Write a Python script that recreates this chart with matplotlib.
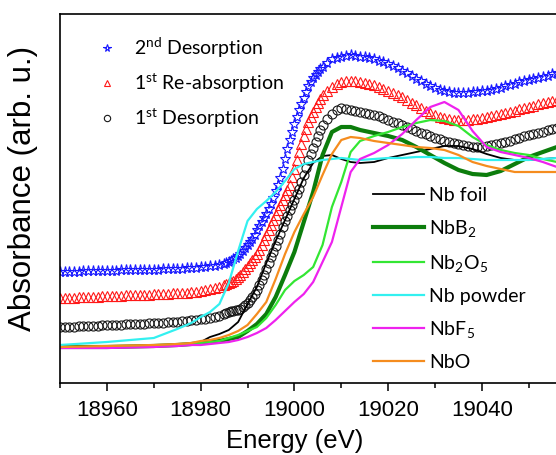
import numpy as np
import matplotlib

matplotlib.use("Agg")
from matplotlib import pyplot as plt
from matplotlib.ticker import MultipleLocator

plt.rcParams['font.family'] = ['Liberation Sans', 'DejaVu Sans']
plt.rcParams['mathtext.default'] = 'regular'

# energy grid of the in-situ scans (finer over the edge)
e_pre = np.arange(18950, 18986)
e_edge = np.arange(18985.5, 19006.5, 0.5)
e_post = np.arange(19007, 19057)
energy = np.concatenate((e_pre, e_edge, e_post))

des2_pre = [0.75, 0.75, 0.75, 0.75, 0.75, 0.76, 0.76, 0.76, 0.76, 0.76,
            0.76, 0.76, 0.76, 0.77, 0.77, 0.77, 0.77, 0.77, 0.77, 0.77,
            0.77, 0.77, 0.78, 0.78, 0.78, 0.78, 0.78, 0.79, 0.79, 0.79,
            0.80, 0.80, 0.81, 0.81, 0.82, 0.83]
des2_edge = [0.84, 0.85, 0.86, 0.88, 0.89, 0.91, 0.93, 0.96, 0.99, 1.02,
             1.05, 1.08, 1.12, 1.17, 1.21, 1.25, 1.29, 1.33, 1.38, 1.43,
             1.49, 1.56, 1.62, 1.69, 1.78, 1.88, 1.98, 2.07, 2.15, 2.23,
             2.30, 2.37, 2.43, 2.49, 2.55, 2.61, 2.65, 2.69, 2.72, 2.75,
             2.78, 2.80]
des2_post = [2.84, 2.88, 2.89, 2.90, 2.91, 2.92, 2.91, 2.90, 2.90, 2.89,
             2.88, 2.86, 2.85, 2.83, 2.81, 2.79, 2.76, 2.74, 2.71, 2.68,
             2.66, 2.63, 2.61, 2.59, 2.57, 2.56, 2.55, 2.54, 2.54, 2.54,
             2.54, 2.55, 2.55, 2.56, 2.56, 2.57, 2.58, 2.59, 2.61, 2.62,
             2.63, 2.65, 2.66, 2.67, 2.68, 2.69, 2.70, 2.71, 2.73, 2.74]

reabs1_pre = [0.49, 0.49, 0.49, 0.49, 0.50, 0.50, 0.50, 0.50, 0.50, 0.51,
              0.51, 0.51, 0.51, 0.51, 0.52, 0.52, 0.52, 0.52, 0.52, 0.52,
              0.53, 0.53, 0.53, 0.53, 0.54, 0.54, 0.54, 0.54, 0.55, 0.55,
              0.56, 0.57, 0.58, 0.59, 0.60, 0.62]
reabs1_edge = [0.63, 0.64, 0.65, 0.66, 0.68, 0.70, 0.72, 0.75, 0.78, 0.81,
               0.84, 0.87, 0.90, 0.93, 0.97, 1.02, 1.07, 1.12, 1.17, 1.22,
               1.27, 1.32, 1.37, 1.42, 1.47, 1.52, 1.57, 1.62, 1.70, 1.78,
               1.87, 1.95, 2.03, 2.11, 2.18, 2.25, 2.30, 2.35, 2.40, 2.44,
               2.48, 2.52]
reabs1_post = [2.56, 2.60, 2.63, 2.65, 2.66, 2.66, 2.66, 2.65, 2.64, 2.63,
               2.62, 2.60, 2.58, 2.56, 2.54, 2.52, 2.50, 2.47, 2.44, 2.42,
               2.39, 2.36, 2.34, 2.32, 2.30, 2.29, 2.28, 2.27, 2.27, 2.27,
               2.27, 2.28, 2.28, 2.29, 2.30, 2.31, 2.32, 2.33, 2.34, 2.35,
               2.36, 2.38, 2.39, 2.40, 2.41, 2.43, 2.44, 2.45, 2.46, 2.47]

des1_pre = [0.20, 0.20, 0.20, 0.20, 0.21, 0.21, 0.21, 0.21, 0.21, 0.22,
            0.22, 0.22, 0.22, 0.22, 0.23, 0.23, 0.23, 0.23, 0.23, 0.24,
            0.24, 0.24, 0.24, 0.25, 0.25, 0.25, 0.26, 0.26, 0.27, 0.27,
            0.28, 0.28, 0.29, 0.30, 0.31, 0.33]
des1_edge = [0.34, 0.35, 0.36, 0.36, 0.37, 0.37, 0.38, 0.40, 0.42, 0.44,
             0.47, 0.50, 0.53, 0.57, 0.62, 0.67, 0.72, 0.78, 0.84, 0.90,
             0.95, 1.01, 1.07, 1.13, 1.20, 1.26, 1.31, 1.37, 1.42, 1.47,
             1.53, 1.58, 1.65, 1.72, 1.79, 1.87, 1.93, 1.99, 2.05, 2.11,
             2.17, 2.22]
des1_post = [2.28, 2.33, 2.37, 2.39, 2.38, 2.37, 2.36, 2.35, 2.34, 2.33,
             2.32, 2.31, 2.29, 2.27, 2.25, 2.24, 2.22, 2.20, 2.18, 2.16,
             2.14, 2.13, 2.11, 2.09, 2.08, 2.06, 2.05, 2.04, 2.03, 2.02,
             2.01, 2.00, 2.00, 2.00, 2.01, 2.02, 2.03, 2.04, 2.05, 2.06,
             2.08, 2.09, 2.11, 2.12, 2.13, 2.14, 2.15, 2.17, 2.18, 2.19]

des2 = des2_pre + des2_edge + des2_post
reabs1 = reabs1_pre + reabs1_edge + reabs1_post
des1 = des1_pre + des1_edge + des1_post

# reference spectra
ref_energy = [18950, 18960, 18970, 18975, 18978,
              18980, 18982, 18984, 18986, 18988, 18990, 18992, 18994, 18996,
              18998, 19000, 19002, 19004, 19006, 19008, 19010, 19012, 19014,
              19017, 19020, 19023, 19026, 19029, 19032, 19035, 19038, 19041,
              19044, 19047, 19050, 19053, 19056]
nb_foil = [0.01, 0.01, 0.01, 0.02, 0.03,
           0.05, 0.10, 0.13, 0.17, 0.25, 0.43, 0.60, 0.84, 1.06,
           1.27, 1.48, 1.69, 1.84, 1.91, 1.92, 1.88, 1.85, 1.84,
           1.85, 1.89, 1.92, 1.95, 1.98, 2.01, 2.01, 1.98, 1.93,
           1.89, 1.87, 1.87, 1.88, 1.89]
nbb2 = [0.00, 0.00, 0.01, 0.02, 0.03,
        0.04, 0.05, 0.06, 0.08, 0.10, 0.16, 0.23, 0.33, 0.50,
        0.72, 0.95, 1.25, 1.55, 1.92, 2.15, 2.20, 2.20, 2.17,
        2.14, 2.11, 2.07, 2.00, 1.92, 1.84, 1.77, 1.73, 1.72,
        1.76, 1.83, 1.90, 1.95, 2.00]
nb2o5 = [0.00, 0.00, 0.01, 0.02, 0.03,
         0.04, 0.05, 0.06, 0.09, 0.12, 0.16, 0.20, 0.29, 0.42,
         0.57, 0.66, 0.72, 0.80, 1.02, 1.40, 1.65, 1.95, 2.06,
         2.11, 2.15, 2.20, 2.24, 2.27, 2.26, 2.21, 2.10, 2.02,
         1.97, 1.94, 1.92, 1.88, 1.85]
nb_powder = [0.02, 0.05, 0.09, 0.18, 0.24,
             0.30, 0.35, 0.43, 0.64, 0.96, 1.26, 1.38, 1.46, 1.55,
             1.66, 1.78, 1.83, 1.85, 1.87, 1.88, 1.89, 1.88, 1.87,
             1.88, 1.89, 1.89, 1.90, 1.90, 1.89, 1.89, 1.88, 1.87,
             1.87, 1.87, 1.87, 1.88, 1.89]
nbf5 = [-0.01, -0.01, 0.00, 0.01, 0.02,
        0.02, 0.03, 0.04, 0.05, 0.07, 0.10, 0.14, 0.19, 0.27,
        0.36, 0.45, 0.53, 0.65, 0.85, 1.05, 1.40, 1.75, 1.88,
        1.94, 2.02, 2.13, 2.27, 2.40, 2.45, 2.37, 2.16, 2.00,
        1.95, 1.92, 1.89, 1.85, 1.80]
nbo = [0.00, 0.01, 0.02, 0.03, 0.04,
       0.06, 0.07, 0.09, 0.12, 0.16, 0.22, 0.33, 0.45, 0.68,
       0.93, 1.15, 1.33, 1.50, 1.72, 1.93, 2.07, 2.10, 2.09,
       2.06, 2.04, 2.02, 2.00, 1.99, 1.97, 1.92, 1.85, 1.81,
       1.78, 1.75, 1.75, 1.75, 1.75]

fig = plt.figure(figsize=(5.56, 4.55), dpi=100)
ax = fig.add_axes([60 / 556, 1 - 383 / 455, 496 / 556, 369 / 455])

m1, = ax.plot(energy, des2, ls='none', marker='*', ms=8, mfc='none',
              mec='#1818ff', mew=0.8, label='2$^{nd}$ Desorption')
m2, = ax.plot(energy, reabs1, ls='none', marker='^', ms=7, mfc='none',
              mec='#ff1818', mew=0.8, label='1$^{st}$ Re-absorption')
m3, = ax.plot(energy, des1, ls='none', marker='o', ms=6.5, mfc='none',
              mec='#181818', mew=0.8, label='1$^{st}$ Desorption')

l1, = ax.plot(ref_energy, nb_foil, color='black', lw=1.3, label='Nb foil')
l2, = ax.plot(ref_energy, nbb2, color='#0c7d0c', lw=3, label='NbB$_2$')
l3, = ax.plot(ref_energy, nb2o5, color='#33e633', lw=1.6, label='Nb$_2$O$_5$')
l4, = ax.plot(ref_energy, nb_powder, color='#33f0f0', lw=1.6, label='Nb powder')
l5, = ax.plot(ref_energy, nbf5, color='#ee22ee', lw=1.6, label='NbF$_5$')
l6, = ax.plot(ref_energy, nbo, color='#f58c1e', lw=1.6, label='NbO')

ax.set_xlim(18950, 19055.8)
ax.set_ylim(-0.36, 3.33)
ax.xaxis.set_major_locator(MultipleLocator(20))
ax.xaxis.set_minor_locator(MultipleLocator(10))
ax.tick_params(axis='x', which='major', direction='out', length=6, width=1.1,
               labelsize=16, pad=6)
ax.tick_params(axis='x', which='minor', direction='out', length=3.5, width=1.1)
ax.set_yticks([])
ax.spines['right'].set_visible(False)
for s in ['left', 'bottom', 'top']:
    ax.spines[s].set_linewidth(1.2)

ax.set_xlabel('Energy (eV)', fontsize=18.5)
ax.xaxis.set_label_coords(0.474, -0.126)
ax.set_ylabel('Absorbance (arb. u.)', fontsize=22.5)
ax.yaxis.set_label_coords(-0.045, 0.528)

leg1 = ax.legend(handles=[m1, m2, m3], loc='upper left',
                 bbox_to_anchor=(0.075, 0.94), frameon=False,
                 prop={'family': 'Lato', 'size': 14}, handlelength=1.0,
                 handletextpad=0.9, labelspacing=0.6, borderpad=0,
                 borderaxespad=0, markerscale=0.7)
ax.add_artist(leg1)
ax.legend(handles=[l1, l2, l3, l4, l5, l6], loc='upper left',
          bbox_to_anchor=(0.631, 0.531), frameon=False,
          prop={'family': 'Lato', 'size': 14}, handlelength=2.6,
          handletextpad=0.3, labelspacing=0.72, borderpad=0, borderaxespad=0)

fig.savefig('out.png', dpi=100)
